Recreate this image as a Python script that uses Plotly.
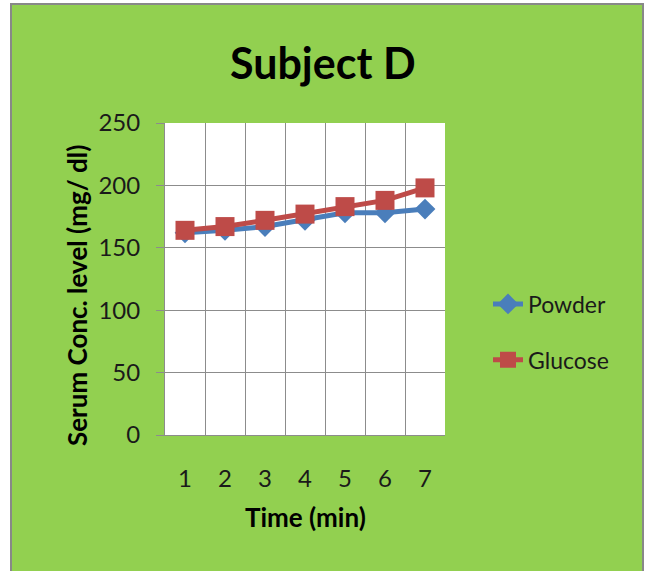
import plotly.graph_objects as go

# ---- data ----
time_min = [1, 2, 3, 4, 5, 6, 7]
powder = [162, 164, 167, 172, 178, 178, 181]
glucose = [164, 167, 172, 177, 183, 188, 198]
y_ticks = [0, 50, 100, 150, 200, 250]
title_text = "Subject D"
x_title = "Time (min)"
y_title = "Serum Conc. level (mg/ dl)"

W, H = 651, 571
L, R, T, B = 165, 445, 123, 435  # plot area in px
FONT = "Lato"

def px_x(px):
    return (px - L) / (R - L)

def px_y(py):
    return (B - py) / (B - T)

fig = go.Figure()
fig.add_trace(go.Scatter(
    x=time_min, y=powder, name="Powder", mode="lines+markers",
    line=dict(color="#4A7EBB", width=5),
    marker=dict(symbol="diamond", size=16, color="#4A7EBB"),
    legendgroup="p",
))
fig.add_trace(go.Scatter(
    x=time_min, y=glucose, name="Glucose", mode="lines+markers",
    line=dict(color="#BE4B48", width=5),
    marker=dict(symbol="square", size=19, color="#BE4B48"),
    legendgroup="g",
))

grid = "#8C8C8C"
fig.update_layout(
    width=W, height=H,
    margin=dict(l=L, r=W - R, t=T, b=H - B, autoexpand=False),
    paper_bgcolor="white",
    plot_bgcolor="white",
    font=dict(family=FONT, color="#1A1A1A"),
    showlegend=True,
    legend=dict(
        x=px_x(488), y=px_y(332), xanchor="left", yanchor="middle",
        bgcolor="rgba(0,0,0,0)", font=dict(size=23, family=FONT, color="#1A1A1A"),
        tracegroupgap=23, itemsizing="trace",
    ),
    xaxis=dict(
        range=[0.5, 7.5], tickmode="array", tickvals=time_min,
        ticktext=[str(v) for v in time_min],
        showgrid=False, zeroline=False,
        showline=True, linecolor=grid, linewidth=1,
        ticks="", tickfont=dict(size=24, family=FONT, color="#1A1A1A"),
        ticklabelstandoff=22,
        minor=dict(tickmode="array", tickvals=[i + 0.5 for i in range(0, 8)],
                   showgrid=True, gridcolor=grid, gridwidth=1, ticks=""),
    ),
    yaxis=dict(
        range=[0, 250], tickmode="array", tickvals=y_ticks,
        showgrid=True, gridcolor=grid, gridwidth=1, zeroline=False,
        showline=True, linecolor=grid, linewidth=1,
        ticks="outside", ticklen=8, tickcolor=grid,
        tickfont=dict(size=24, family=FONT, color="#1A1A1A"),
        ticklabelstandoff=11,
    ),
    shapes=[
        dict(type="rect", xref="paper", yref="paper", layer="below",
             x0=px_x(11), x1=px_x(643), y0=px_y(580), y1=px_y(4),
             fillcolor="#92D050", line=dict(color="#888888", width=2)),
        dict(type="rect", xref="paper", yref="paper", layer="below",
             x0=0, x1=1, y0=0, y1=1,
             fillcolor="white", line=dict(width=0)),
    ],
    annotations=[
        dict(text=f"<b>{title_text}</b>", xref="paper", yref="paper",
             x=px_x(323), y=px_y(62), xanchor="center", yanchor="middle",
             showarrow=False, font=dict(size=43, family=FONT, color="#000000")),
        dict(text=f"<b>{x_title}</b>", xref="paper", yref="paper",
             x=px_x(305), y=px_y(517), xanchor="center", yanchor="middle",
             showarrow=False, font=dict(size=26, family=FONT, color="#000000")),
        dict(text=f"<b>{y_title}</b>", xref="paper", yref="paper",
             x=px_x(77), y=px_y(296), xanchor="center", yanchor="middle",
             textangle=-90,
             showarrow=False, font=dict(size=26, family=FONT, color="#000000")),
    ],
)

fig.write_html("out.html")
